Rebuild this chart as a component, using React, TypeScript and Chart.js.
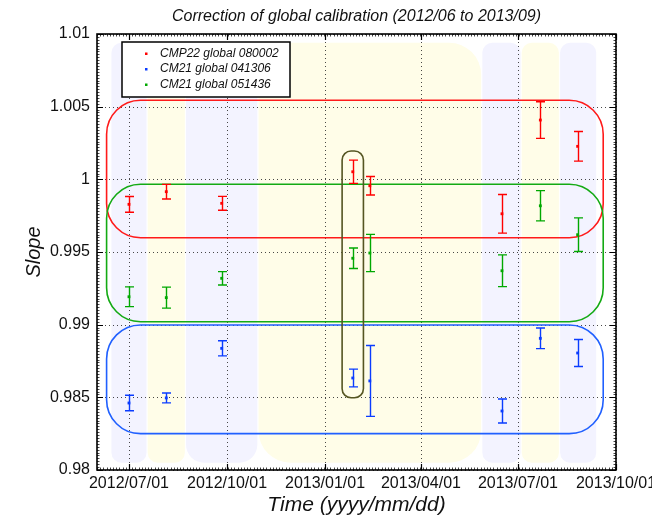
import { useEffect, useRef } from 'react';
import { Chart, registerables } from 'chart.js';

Chart.register(...registerables);

// ---------- data ----------
const dates = ['2012-07-01', '2012-08-05', '2012-09-26', '2013-01-27', '2013-02-12', '2013-06-16', '2013-07-22', '2013-08-26'];
const cmp22 = [0.99828, 0.99915, 0.99835, 1.00052, 0.99956, 0.99763, 1.00408, 1.00227];
const cmp22Err = [0.00054, 0.0005, 0.00048, 0.0008, 0.00064, 0.00133, 0.00126, 0.00102];
const cm21_041306 = [0.98461, 0.98496, 0.98837, 0.98633, 0.98613, 0.98406, 0.98906, 0.98805];
const cm21_041306Err = [0.00053, 0.00034, 0.00052, 0.00061, 0.00244, 0.00083, 0.00071, 0.00093];
const cm21_051436 = [0.99192, 0.99186, 0.99319, 0.99457, 0.99493, 0.99371, 0.99818, 0.99619];
const cm21_051436Err = [0.00068, 0.00072, 0.00046, 0.00071, 0.00128, 0.00109, 0.00104, 0.00116];

const seriesLabels = ['CMP22 global 080002', 'CM21 global 041306', 'CM21 global 051436'];

const xMinDate = '2012-06-01';
const xMaxDate = '2013-10-01';
const xTickDates = ['2012-07-01', '2012-10-01', '2013-01-01', '2013-04-01', '2013-07-01', '2013-10-01'];
const xTickLabels = ['2012/07/01', '2012/10/01', '2013/01/01', '2013/04/01', '2013/07/01', '2013/10/01'];
const yTicks = [0.98, 0.985, 0.99, 0.995, 1, 1.005, 1.01];
const yTickLabels = ['0.98', '0.985', '0.99', '0.995', '1', '1.005', '1.01'];

// shaded period bands (date extents, value extents)
const bandStarts = ['2012-06-14', '2012-07-18', '2012-08-23', '2012-10-30', '2013-05-28', '2013-07-04', '2013-08-09'];
const bandEnds = ['2012-07-18', '2012-08-23', '2012-10-30', '2013-05-28', '2013-07-04', '2013-08-09', '2013-09-13'];
const bandKinds = [0, 1, 0, 1, 0, 1, 0];
const bandTop = 1.0094;
const bandBottom = 0.9805;

// rounded group boxes (date extents, value extents)
const boxLeft = ['2012-06-10', '2012-06-10', '2012-06-10', '2013-01-17'];
const boxRight = ['2013-09-19', '2013-09-19', '2013-09-19', '2013-02-06'];
const boxTop = [1.00544, 0.99966, 0.98998, 1.00195];
const boxBottom = [0.99598, 0.9902, 0.9825, 0.98497];

// ---------- styles ----------
const seriesColors = ['#ff0000', '#0a3cff', '#00a800'];
const bandColors = ['#f3f3ff', '#fffde8'];
const bandRadii = [10, 10, 18, 32, 10, 10, 10];
const boxColors = ['#ff1a1a', '#14aa14', '#2060ff', '#555522'];
const boxRadii = [34, 34, 34, 9];
const FONT = '"Liberation Sans", Arial, Helvetica, sans-serif';

const day = (s: string) =>
  Date.UTC(+s.slice(0, 4), +s.slice(5, 7) - 1, +s.slice(8, 10)) / 86400000;

function roundRect(ctx: CanvasRenderingContext2D, x: number, y: number, w: number, h: number, r: number) {
  const rr = Math.min(r, w / 2, h / 2);
  ctx.beginPath();
  ctx.moveTo(x + rr, y);
  ctx.lineTo(x + w - rr, y);
  ctx.arcTo(x + w, y, x + w, y + rr, rr);
  ctx.lineTo(x + w, y + h - rr);
  ctx.arcTo(x + w, y + h, x + w - rr, y + h, rr);
  ctx.lineTo(x + rr, y + h);
  ctx.arcTo(x, y + h, x, y + h - rr, rr);
  ctx.lineTo(x, y + rr);
  ctx.arcTo(x, y, x + rr, y, rr);
  ctx.closePath();
}

const errorsBySeries = [cmp22Err, cm21_041306Err, cm21_051436Err];
const valuesBySeries = [cmp22, cm21_041306, cm21_051436];

const decorPlugin = {
  id: 'decor',
  beforeDatasetsDraw(chart: any) {
    const ctx: CanvasRenderingContext2D = chart.ctx;
    const xs = chart.scales.x;
    const ys = chart.scales.y;
    const ca = chart.chartArea;
    ctx.save();
    // bands
    for (let i = 0; i < bandStarts.length; i++) {
      const x0 = xs.getPixelForValue(day(bandStarts[i])) + 0.6;
      const x1 = xs.getPixelForValue(day(bandEnds[i])) - 0.6;
      const y0 = ys.getPixelForValue(bandTop);
      const y1 = ys.getPixelForValue(bandBottom);
      ctx.fillStyle = bandColors[bandKinds[i]];
      roundRect(ctx, x0, y0, x1 - x0, y1 - y0, bandRadii[i]);
      ctx.fill();
    }
    // grid
    ctx.strokeStyle = 'rgba(40,40,40,0.85)';
    ctx.lineWidth = 1;
    ctx.setLineDash([1, 3]);
    for (const d of xTickDates) {
      const x = Math.round(xs.getPixelForValue(day(d))) + 0.5;
      ctx.beginPath();
      ctx.moveTo(x, ca.top);
      ctx.lineTo(x, ca.bottom);
      ctx.stroke();
    }
    for (const v of yTicks) {
      const y = Math.round(ys.getPixelForValue(v)) + 0.5;
      ctx.beginPath();
      ctx.moveTo(ca.left, y);
      ctx.lineTo(ca.right, y);
      ctx.stroke();
    }
    ctx.setLineDash([]);
    // group boxes
    for (let i = 0; i < boxLeft.length; i++) {
      const x0 = xs.getPixelForValue(day(boxLeft[i]));
      const x1 = xs.getPixelForValue(day(boxRight[i]));
      const y0 = ys.getPixelForValue(boxTop[i]);
      const y1 = ys.getPixelForValue(boxBottom[i]);
      ctx.strokeStyle = boxColors[i];
      ctx.lineWidth = 1.6;
      roundRect(ctx, x0, y0, x1 - x0, y1 - y0, boxRadii[i]);
      ctx.stroke();
    }
    // error bars
    for (let s = 0; s < valuesBySeries.length; s++) {
      ctx.strokeStyle = seriesColors[s];
      ctx.lineWidth = 1.4;
      for (let j = 0; j < dates.length; j++) {
        const x = Math.round(xs.getPixelForValue(day(dates[j]))) + 0.5;
        const v = valuesBySeries[s][j];
        const e = errorsBySeries[s][j];
        const yt = ys.getPixelForValue(v + e);
        const yb = ys.getPixelForValue(v - e);
        ctx.beginPath();
        ctx.moveTo(x, yt);
        ctx.lineTo(x, yb);
        ctx.moveTo(x - 4.5, yt);
        ctx.lineTo(x + 4.5, yt);
        ctx.moveTo(x - 4.5, yb);
        ctx.lineTo(x + 4.5, yb);
        ctx.stroke();
      }
    }
    ctx.restore();
  },
  afterDraw(chart: any) {
    const ctx: CanvasRenderingContext2D = chart.ctx;
    const xs = chart.scales.x;
    const ys = chart.scales.y;
    const ca = chart.chartArea;
    ctx.save();
    // minor ticks
    ctx.strokeStyle = '#444';
    ctx.lineWidth = 1;
    ctx.beginPath();
    for (let d = day(xMinDate); d <= day(xMaxDate); d += 3) {
      const x = Math.round(xs.getPixelForValue(d)) + 0.5;
      ctx.moveTo(x, ca.top);
      ctx.lineTo(x, ca.top + 2.5);
      ctx.moveTo(x, ca.bottom);
      ctx.lineTo(x, ca.bottom - 2.5);
    }
    for (let k = 0; k <= 150; k++) {
      const v = 0.98 + k * 0.0002;
      const y = Math.round(ys.getPixelForValue(v)) + 0.5;
      ctx.moveTo(ca.left, y);
      ctx.lineTo(ca.left + 2.5, y);
      ctx.moveTo(ca.right, y);
      ctx.lineTo(ca.right - 2.5, y);
    }
    ctx.stroke();
    // major ticks
    ctx.strokeStyle = '#000';
    ctx.lineWidth = 1.2;
    ctx.beginPath();
    for (const d of xTickDates) {
      const x = Math.round(xs.getPixelForValue(day(d))) + 0.5;
      ctx.moveTo(x, ca.top);
      ctx.lineTo(x, ca.top + 6);
      ctx.moveTo(x, ca.bottom);
      ctx.lineTo(x, ca.bottom - 6);
    }
    for (const v of yTicks) {
      const y = Math.round(ys.getPixelForValue(v)) + 0.5;
      ctx.moveTo(ca.left, y);
      ctx.lineTo(ca.left + 6, y);
      ctx.moveTo(ca.right, y);
      ctx.lineTo(ca.right - 6, y);
    }
    ctx.stroke();
    // frame
    ctx.lineWidth = 1.6;
    ctx.strokeStyle = '#000';
    ctx.strokeRect(ca.left, ca.top, ca.right - ca.left, ca.bottom - ca.top);

    // legend
    const lx = 122, ly = 42, lw = 168, lh = 55;
    ctx.fillStyle = '#fff';
    ctx.fillRect(lx, ly, lw, lh);
    ctx.lineWidth = 1.5;
    ctx.strokeStyle = '#000';
    ctx.strokeRect(lx, ly, lw, lh);
    ctx.font = `italic 12px ${FONT}`;
    ctx.textBaseline = 'middle';
    ctx.textAlign = 'left';
    for (let i = 0; i < seriesLabels.length; i++) {
      const yy = ly + 11.5 + i * 15.5;
      ctx.fillStyle = seriesColors[i];
      ctx.fillRect(lx + 23, yy - 1, 2.5, 2.5);
      ctx.fillStyle = '#111';
      ctx.fillText(seriesLabels[i], lx + 38, yy);
    }

    // titles
    ctx.fillStyle = '#111';
    ctx.textAlign = 'center';
    ctx.font = `italic 16px ${FONT}`;
    ctx.fillText('Correction of global calibration (2012/06 to 2013/09)', (ca.left + ca.right) / 2, 17);
    ctx.font = `italic 21px ${FONT}`;
    ctx.fillText('Time (yyyy/mm/dd)', (ca.left + ca.right) / 2, 505);
    ctx.font = `italic 20px ${FONT}`;
    ctx.translate(34, (ca.top + ca.bottom) / 2);
    ctx.rotate(-Math.PI / 2);
    ctx.fillText('Slope', 0, 0);
    ctx.restore();
  },
};

export default function App() {
  const ref = useRef<HTMLCanvasElement>(null);
  useEffect(() => {
    if (!ref.current) return;
    const mk = (vals: number[]) => vals.map((v, j) => ({ x: day(dates[j]), y: v }));
    const chart = new Chart(ref.current, {
      type: 'scatter',
      data: {
        datasets: [cmp22, cm21_041306, cm21_051436].map((vals, i) => ({
          label: seriesLabels[i],
          data: mk(vals),
          backgroundColor: seriesColors[i],
          borderColor: seriesColors[i],
          pointStyle: 'rect',
          pointRadius: 2,
          borderWidth: 0,
        })),
      },
      options: {
        animation: false,
        responsive: false,
        events: [],
        layout: { padding: { top: 34, right: 36, left: 0, bottom: 0 } },
        plugins: { legend: { display: false }, tooltip: { enabled: false }, title: { display: false } },
        scales: {
          x: {
            type: 'linear',
            min: day(xMinDate),
            max: day(xMaxDate),
            grid: { display: false, drawTicks: false },
            border: { display: false },
            afterBuildTicks: (s: any) => {
              s.ticks = xTickDates.map((d) => ({ value: day(d) }));
            },
            afterFit: (s: any) => {
              s.height = 46;
              s.paddingLeft = 0;
              s.paddingRight = 0;
            },
            ticks: {
              padding: 4,
              maxRotation: 0,
              autoSkip: false,
              color: '#111',
              font: { family: FONT, size: 16 },
              callback: (v: any) => {
                const i = xTickDates.findIndex((d) => day(d) === v);
                return i >= 0 ? xTickLabels[i] : '';
              },
            },
          },
          y: {
            type: 'linear',
            min: 0.98,
            max: 1.01,
            grid: { display: false, drawTicks: false },
            border: { display: false },
            afterBuildTicks: (s: any) => {
              s.ticks = yTicks.map((v) => ({ value: v }));
            },
            afterFit: (s: any) => {
              s.width = 97;
              s.paddingTop = 0;
              s.paddingBottom = 0;
            },
            ticks: {
              padding: 7,
              autoSkip: false,
              color: '#111',
              font: { family: FONT, size: 16 },
              callback: (v: any) => {
                const i = yTicks.findIndex((t) => Math.abs(t - v) < 1e-9);
                return i >= 0 ? yTickLabels[i] : '';
              },
            },
          },
        },
      },
      plugins: [decorPlugin],
    });
    return () => chart.destroy();
  }, []);
  return (
    <div style={{ position: 'fixed', left: 0, top: 0, width: 652, height: 516, background: '#fff' }}>
      <canvas ref={ref} width={652} height={516} style={{ width: 652, height: 516, display: 'block' }} />
    </div>
  );
}
